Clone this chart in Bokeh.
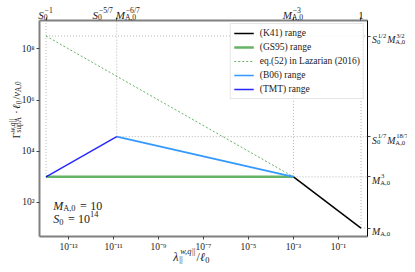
import math
from bokeh.plotting import figure
from bokeh.layouts import column
from bokeh.models import Range1d, LogAxis, FixedTicker, Label, Legend, LegendItem
from bokeh.embed import file_html
from bokeh.resources import INLINE

# ---------------- data ----------------
k41_x = [1e-3, 1.0]
k41_y = [1e3, 1e1]
gs95_x = [1e-14, 1e-3]
gs95_y = [1e3, 1e3]
laz_x = [1e-14, 1e-3]
laz_y = [3.16e8, 1e3]
b06_x = [1.39e-11, 1e-3]
b06_y = [3.73e4, 1e3]
tmt_x = [1e-14, 1.39e-11]
tmt_y = [1e3, 3.73e4]

# guide points: vertical dotted guides go up to the top axis, horizontal ones go right
vguide_x = [1e-14, 1.39e-11, 1e-3, 1.0]
vguide_y = [1e3, 3.73e4, 1e3, 1e1]
hguide_x = [1e-14, 1.39e-11, 1e-3, 1.0]
hguide_y = [3.16e8, 3.73e4, 1e3, 1e1]

bottom_exps = [-13, -11, -9, -7, -5, -3, -1]
left_exps = [2, 4, 6, 8]
top_ticks = [1e-14, 1.39e-11, 1e-3, 1.0]
right_ticks = [3.16e8, 3.73e4, 1e3, 1e1]

# label "formulas": (base, italic, sub-segments, sup-segments); a bare number is a skip in em
top_labels = [
    [("S", 1, [("0", 0)], [("−1", 0)])],
    [("S", 1, [("0", 0)], [("−5/7", 0)]), 0.15, ("M", 1, [("A,0", 0)], [("−6/7", 0)])],
    [("M", 1, [("A,0", 0)], [("−3", 0)])],
    [("1", 0, None, None)],
]
right_labels = [
    [("S", 1, [("0", 0)], [("1/2", 0)]), ("M", 1, [("A,0", 0)], [("3/2", 0)])],
    [("S", 1, [("0", 0)], [("1/7", 0)]), ("M", 1, [("A,0", 0)], [("18/7", 0)])],
    [("M", 1, [("A,0", 0)], [("3", 0)])],
    [("M", 1, [("A,0", 0)], None)],
]
xlabel = [("λ", 1, [("||", 0)], [("w,q", 1), ("||", 0)]), ("/", 0, None, None), ("ℓ", 1, [("0", 0)], None)]
ylabel = [("Γ", 0, [("supA", 0)], [("w,q", 1), ("||", 0)]), 0.2, ("·", 0, None, None), 0.2,
          ("ℓ", 1, [("0", 0)], None), ("/", 0, None, None), ("v", 1, [("A,0", 0)], None)]
note1 = [("M", 1, [("A,0", 0)], None), 0.28, ("=", 0, None, None), 0.28, ("10", 0, None, None)]
note2 = [("S", 1, [("0", 0)], None), 0.28, ("=", 0, None, None), 0.28, ("10", 0, None, [("14", 0)])]

legend_labels = ["(K41) range", "(GS95) range", "eq.(52) in Lazarian (2016)", "(B06) range", "(TMT) range"]

SUP = str.maketrans("0123456789-", "⁰¹²³⁴⁵⁶⁷⁸⁹⁻")

# ---------------- layout / styling ----------------
FONT = "Liberation Serif"
TXT = "#222222"
SPINE = "#808080"
W, H = 407, 264
FL, FT, FW, FH = 39, 20, 328, 216          # frame box in page pixels
LX0, LX1 = -14.29, 0.289                    # log10 x range
LY0, LY1 = 0.672, 9.105                     # log10 y range


def px_x(v):
    return FL + (math.log10(v) - LX0) / (LX1 - LX0) * FW


def px_y(v):
    return FT + (LY1 - math.log10(v)) / (LY1 - LY0) * FH


ROMAN = {c: 0.5 for c in "0123456789"}
ROMAN.update({"(": .333, ")": .333, ",": .25, ".": .25, " ": .25, "=": .564, "−": .564, "/": .278,
              "A": .722, "|": .2, "s": .389, "u": .5, "p": .5, "·": .25, "Γ": .578, "λ": .5, "ℓ": .45})
ITAL = {"M": .833, "S": .5, "v": .444, "w": .667, "q": .5, "λ": .5, "ℓ": .45, ",": .25}


def tw(s, ital, size):
    tab = ITAL if ital else ROMAN
    return sum(tab.get(c, ROMAN.get(c, 0.5)) for c in s) * size


def segw(segs, size):
    return sum(tw(t, i, size) for t, i in segs)


def place(fig, x, y, parts, size, align="left", angle=0.0, sc=0.7):
    ss = size * sc
    items = []
    u = 0.0
    for part in parts:
        if isinstance(part, (int, float)):
            u += part * size
            continue
        base, ital, sub, sup = part
        if base:
            items.append((u, 0.0, base, ital, size))
            u += tw(base, ital, size)
        w = 0.0
        if sub:
            uu = u
            for t, i in sub:
                items.append((uu, -size * 0.22, t, i, ss))
                uu += tw(t, i, ss)
            w = max(w, segw(sub, ss))
        if sup:
            k = size * 0.08 if ital else 0.0
            uu = u + k
            for t, i in sup:
                items.append((uu, size * 0.42, t, i, ss))
                uu += tw(t, i, ss)
            w = max(w, segw(sup, ss) + k)
        u += w + (size * 0.1 if (sub or sup) else 0.0)
    shift = {"left": 0.0, "center": u / 2, "right": u}[align]
    for uu, vv, t, i, sz in items:
        uu -= shift
        if angle == 0:
            xo, yo = uu, vv
        else:
            xo, yo = -vv, uu
        fig.add_layout(Label(x=x, y=y, x_offset=xo, y_offset=yo, text=t, angle=angle,
                             text_font=FONT, text_font_style="italic" if i else "normal",
                             text_font_size=f"{sz:.1f}px", text_baseline="alphabetic",
                             text_align="left", text_color=TXT))


# ---------------- main plot ----------------
xr = Range1d(10 ** LX0, 10 ** LX1)
yr = Range1d(10 ** LY0, 10 ** LY1)

p = figure(x_axis_type="log", y_axis_type="log", x_range=xr, y_range=yr,
           frame_width=FW, frame_height=FH,
           min_border_left=FL, min_border_right=W - FL - FW, min_border_top=FT,
           min_border_bottom=H - FT - FH,
           output_backend="svg", toolbar_location=None, outline_line_color=None,
           background_fill_color="white", border_fill_color="white")
p.grid.visible = False

bt = [float(f"1e{k}") for k in bottom_exps]
lt = [float(f"1e{k}") for k in left_exps]

xa = p.xaxis[0]
xa.ticker = FixedTicker(ticks=bt)
xa.major_label_overrides = {t: "10" + str(k).translate(SUP) for t, k in zip(bt, bottom_exps)}
ya = p.yaxis[0]
ya.ticker = FixedTicker(ticks=lt)
ya.major_label_overrides = {t: "10" + str(k).translate(SUP) for t, k in zip(lt, left_exps)}
for ax in (xa, ya):
    ax.axis_line_color = SPINE
    ax.axis_line_width = 2
    ax.major_tick_line_color = "#444444"
    ax.major_tick_out = 3
    ax.major_tick_in = 0
    ax.minor_tick_out = 0
    ax.minor_tick_in = 0
    ax.major_label_text_font = FONT
    ax.major_label_text_font_size = "9.5px"
    ax.major_label_text_color = TXT
    ax.major_label_standoff = 2

top = LogAxis(ticker=FixedTicker(ticks=top_ticks), major_label_overrides={t: "" for t in top_ticks})
right = LogAxis(ticker=FixedTicker(ticks=right_ticks), major_label_overrides={t: "" for t in right_ticks})
for ax, col, w in ((top, SPINE, 2), (right, "black", 1)):
    ax.axis_line_color = col
    ax.axis_line_width = w
    ax.major_tick_line_color = "#444444"
    ax.major_tick_out = 3
    ax.major_tick_in = 0
    ax.minor_tick_out = 0
    ax.minor_tick_in = 0
    ax.major_label_text_font_size = "1px"
    ax.major_label_standoff = 0
p.add_layout(top, "above")
p.add_layout(right, "right")

guide = dict(line_color="#b5b5b5", line_width=1, line_dash="1 2", length=0)
p.ray(x=vguide_x, y=vguide_y, angle=math.pi / 2, **guide)
p.ray(x=hguide_x, y=hguide_y, angle=0, **guide)

r_k41 = p.line(k41_x, k41_y, line_color="black", line_width=1.5)
r_gs = p.line(gs95_x, gs95_y, line_color="green", line_alpha=0.6, line_width=2.5)
r_laz = p.line(laz_x, laz_y, line_color="green", line_alpha=0.6, line_width=1, line_dash="2 2")
r_b06 = p.line(b06_x, b06_y, line_color="#3399ff", line_width=1.7)
r_tmt = p.line(tmt_x, tmt_y, line_color="blue", line_alpha=0.85, line_width=1.5)

legend = Legend(items=[LegendItem(label=l, renderers=[r]) for l, r in
                       zip(legend_labels, [r_k41, r_gs, r_laz, r_b06, r_tmt])],
                location="top_right", margin=3, padding=3, spacing=2,
                glyph_height=12, glyph_width=20, label_height=12, label_standoff=6,
                label_text_font=FONT, label_text_font_size="9.5px", label_text_color=TXT,
                border_line_color="#cccccc", border_line_width=1,
                background_fill_color="white", background_fill_alpha=0.8)
p.add_layout(legend)

# ---------------- transparent text layer over the whole page ----------------
t = figure(width=W, height=H, x_range=Range1d(0, W), y_range=Range1d(H, 0),
           min_border=0, x_axis_location=None, y_axis_location=None,
           output_backend="svg", toolbar_location=None, outline_line_color=None,
           background_fill_color=None, border_fill_color=None)
t.grid.visible = False
t.margin = (-H, 0, 0, 0)
for fig in (p, t):
    if "frame_align" in fig.properties():
        fig.frame_align = False

for v, parts in zip(top_ticks, top_labels):
    place(t, px_x(v), FT - 5.5, parts, 11, align="center")
for v, parts in zip(right_ticks, right_labels):
    place(t, FL + FW + 4.5, px_y(v) + 3.5, parts, 9.8, sc=0.68)

place(t, 172.7, 256.5, xlabel, 12)
place(t, 16, 138, ylabel, 10.5, angle=math.pi / 2)
place(t, 52.7, 205, note1, 12)
place(t, 52.7, 218.5, note2, 12)

open("out.html", "w").write(file_html(column(p, t, spacing=0), INLINE))
